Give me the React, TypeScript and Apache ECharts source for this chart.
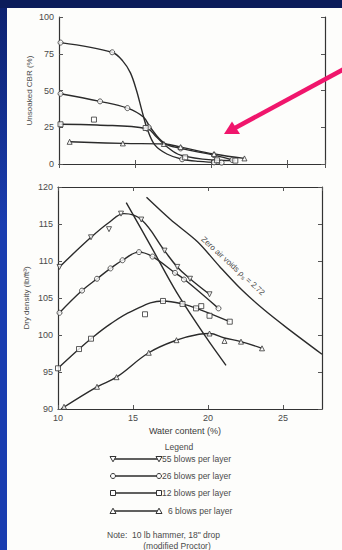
import React, { useEffect, useRef } from "react";
import * as echarts from "echarts";

// ---------- data ----------
const xTicks = [10, 15, 20, 25];
const cbrTicks = [0, 25, 50, 75, 100];
const densityTicks = [90, 95, 100, 105, 110, 115, 120];

const legendLabels = ["55 blows per layer", "26 blows per layer", "12 blows per layer", "6 blows per layer"];

// Unsoaked CBR (%) vs water content (%)
const cbr55Curve = [[10.1, 82.6], [13.5, 76], [14.2, 70], [14.7, 62], [15.1, 50], [15.45, 36.5], [15.8, 24], [16.3, 13], [17.1, 6.8], [18.1, 3.2], [19.2, 1.8], [20.7, 0.9]];
const cbr55Marks = [[10.1, 82.6], [13.5, 76], [15.8, 24], [18.1, 3.2], [20.2, 1.1], [20.7, 0.9]];
const cbr26Curve = [[10.1, 47.8], [12.7, 42.6], [14.5, 38], [15.55, 32], [16.0, 25], [16.9, 14.4], [18.0, 10.6], [20.2, 6], [21.4, 2.7]];
const cbr26Marks = [[10.1, 47.8], [12.7, 42.6], [14.5, 38], [15.9, 25], [18.0, 10.6], [20.2, 6], [21.4, 2.7]];
const cbr12Curve = [[10.1, 27], [12.5, 26.5], [15.8, 24], [16.4, 18.5], [17.1, 11.7], [18.0, 6], [20.2, 2.7], [21.6, 2.3]];
const cbr12Marks = [[10.1, 27], [12.3, 30.2], [15.7, 24.5], [18.3, 4.5], [20.4, 2.5], [21.6, 2.3]];
const cbr6Curve = [[10.7, 15.1], [14.2, 14], [16.9, 13.6], [18.0, 11.5], [20.2, 6.8], [22.2, 3.8]];
const cbr6Marks = [[10.7, 15.1], [14.2, 14], [16.9, 13.6], [18.0, 11.5], [20.2, 6.8], [22.2, 3.8]];

// Dry density (lb/ft3) vs water content (%)
const dd55Curve = [[10.1, 109.2], [12.2, 113.2], [13.4, 115.2], [14.4, 116.4], [15.55, 115.6], [17.1, 111.4], [17.95, 109.2], [18.8, 107.6], [20.1, 105.5]];
const dd55Marks = [[10.1, 109.2], [12.2, 113.2], [13.4, 114.3], [14.2, 116.4], [15.55, 115.6], [17.1, 111.4], [17.95, 109.2], [18.8, 107.6], [20.1, 105.5]];
const dd26Curve = [[10.1, 103], [11.6, 106], [12.6, 107.6], [13.5, 109], [14.3, 110.1], [15.4, 111.2], [16.3, 110.6], [17.8, 108.4], [18.5, 107.4], [20.7, 103.6]];
const dd26Marks = [[10.1, 103], [11.6, 106], [12.6, 107.6], [13.5, 109], [14.3, 110.1], [15.4, 111.2], [16.3, 110.6], [17.8, 108.4], [18.4, 107.5], [20.7, 103.6]];
const dd12Curve = [[10.0, 95.5], [11.4, 98.1], [12.2, 99.5], [13.5, 101.5], [14.9, 103.2], [17.0, 104.6], [18.3, 104.2], [19.5, 103.4], [21.45, 101.8]];
const dd12Marks = [[10.0, 95.5], [11.4, 98.1], [12.2, 99.5], [15.8, 102.8], [17.0, 104.6], [18.3, 104.2], [19.2, 103.6], [19.55, 103.9], [20.1, 102.6], [21.45, 101.8]];
const dd6Curve = [[10.2, 90.0], [12.6, 93], [13.9, 94.3], [16.05, 97.6], [17.9, 99.3], [19.4, 100.1], [20.1, 100.2], [21.1, 99.6], [22.2, 99.1], [23.6, 98.2]];
const dd6Marks = [[10.4, 90.3], [12.6, 93], [13.9, 94.3], [16.05, 97.6], [17.9, 99.3], [20.1, 100.2], [21.1, 99.2], [22.2, 99.1], [23.6, 98.2]];

// line of optimums and zero-air-voids curve
const optimumLine = [[14.55, 117.9], [16.3, 111.6], [17.9, 105.8], [19.9, 99.6], [21.2, 95.9]];
const zavCurve = [[15.9, 118.6], [17.5, 115.6], [19.3, 112.6], [20.8, 109.2], [22.3, 106.0], [23.8, 103.3], [25.3, 100.9], [27.6, 97.4]];

// ---------- styling ----------
const FONT = "Liberation Sans, Arial, sans-serif";
const INK = "#2b2b2b";
const TXT = "#4a4a4a";

function lineSeries(data: number[][], axis: number, smooth = 0.4) {
  return {
    type: "line",
    xAxisIndex: axis,
    yAxisIndex: axis,
    data,
    smooth,
    symbol: "none",
    silent: true,
    lineStyle: { color: INK, width: 1.4 },
    z: 3,
  };
}

function markSeries(data: number[][], axis: number, symbol: string, rotate = 0) {
  return {
    type: "scatter",
    xAxisIndex: axis,
    yAxisIndex: axis,
    data,
    symbol,
    symbolRotate: rotate,
    symbolSize: 5,
    clip: false,
    silent: true,
    itemStyle: { color: "#ffffff", borderColor: "#333", borderWidth: 1 },
    z: 4,
  };
}

function xAxis(grid: number, max: number, pos: "top" | "bottom", labels: boolean) {
  return {
    type: "value",
    gridIndex: grid,
    position: pos,
    min: 10,
    max,
    interval: 5,
    axisLine: { show: true, lineStyle: { color: "#333", width: 1.2 } },
    axisTick: { show: true, inside: true, length: 4, lineStyle: { color: "#555" } },
    axisLabel: {
      show: labels,
      color: TXT,
      fontSize: 9,
      fontFamily: FONT,
      margin: 4,
      showMaxLabel: false,
      formatter: (v: number) => (xTicks.includes(v) ? String(v) : ""),
    },
    splitLine: { show: false },
  };
}

function yAxis(grid: number, min: number, max: number, interval: number, pos: "left" | "right", ticks: number[], name = "", nameGap = 28) {
  return {
    type: "value",
    gridIndex: grid,
    position: pos,
    min,
    max,
    interval,
    name,
    nameLocation: "middle",
    nameGap,
    nameRotate: 90,
    nameMoveOverlap: false,
    nameTextStyle: { color: TXT, fontSize: 8, fontFamily: FONT },
    axisLine: { show: true, lineStyle: { color: "#333", width: 1.2 } },
    axisTick: { show: true, inside: true, length: 4, lineStyle: { color: "#555" } },
    axisLabel: {
      show: pos === "left",
      color: TXT,
      fontSize: 9,
      fontFamily: FONT,
      margin: 5,
      formatter: (v: number) => (ticks.includes(v) ? String(v) : ""),
    },
    splitLine: { show: false },
  };
}

function markerShape(kind: string, cx: number, cy: number) {
  const style = { fill: "#ffffff", stroke: "#333", lineWidth: 1 };
  if (kind === "circle") return { type: "circle", z: 20, shape: { cx, cy, r: 2.5 }, style };
  if (kind === "rect") return { type: "rect", z: 20, shape: { x: cx - 2.5, y: cy - 2.5, width: 5, height: 5 }, style };
  if (kind === "down")
    return { type: "polygon", z: 20, shape: { points: [[cx - 3, cy - 2.5], [cx + 3, cy - 2.5], [cx, cy + 2.8]] }, style };
  return { type: "polygon", z: 20, shape: { points: [[cx - 3, cy + 2.5], [cx + 3, cy + 2.5], [cx, cy - 2.8]] }, style };
}

function buildGraphic() {
  const els: any[] = [];
  const rowsY = [459, 476, 493, 511];
  const kinds = ["down", "circle", "rect", "up"];
  const textX = [162, 162, 162, 168];
  rowsY.forEach((y, i) => {
    els.push({ type: "line", z: 19, shape: { x1: 113, y1: y, x2: 159, y2: y }, style: { stroke: INK, lineWidth: 1.6 } });
    els.push(markerShape(kinds[i], 113, y));
    els.push(markerShape(kinds[i], 159, y));
    els.push({
      type: "text", z: 20, x: textX[i], y,
      style: { text: legendLabels[i], fill: TXT, font: `8.5px ${FONT}`, align: "left", verticalAlign: "middle" },
    });
  });
  els.push({ type: "text", z: 20, x: 179, y: 447, style: { text: "Legend", fill: TXT, font: `8.5px ${FONT}`, align: "center", verticalAlign: "middle" } });
  els.push({ type: "text", z: 20, x: 185, y: 431, style: { text: "Water content (%)", fill: "#3a3a3a", font: `9px ${FONT}`, align: "center", verticalAlign: "middle" } });
  els.push({ type: "text", z: 20, x: 107, y: 535, style: { text: "Note:", fill: TXT, font: `8.5px ${FONT}`, align: "left", verticalAlign: "middle" } });
  els.push({ type: "text", z: 20, x: 132, y: 535, style: { text: "10 lb hammer, 18\" drop", fill: TXT, font: `8.5px ${FONT}`, align: "left", verticalAlign: "middle" } });
  els.push({ type: "text", z: 20, x: 177, y: 546, style: { text: "(modified Proctor)", fill: TXT, font: `8.5px ${FONT}`, align: "center", verticalAlign: "middle" } });
  // zero air voids label
  els.push({
    type: "text", z: 20, x: 233, y: 266, rotation: -0.74,
    style: {
      text: "{a|Zero air voids ρ}{b|s}{a| = 2.72}",
      align: "center", verticalAlign: "middle",
      rich: {
        a: { fill: TXT, fontSize: 8, fontFamily: FONT },
        b: { fill: TXT, fontSize: 6, fontFamily: FONT, padding: [4, 0, 0, 0] },
      },
    },
  });
  // pink arrow
  const arrowColor = "#f0166c";
  els.push({ type: "line", z: 30, shape: { x1: 346, y1: 68, x2: 235, y2: 128 }, style: { stroke: arrowColor, lineWidth: 4.5 } });
  els.push({ type: "polygon", z: 30, shape: { points: [[224, 134], [232, 121.5], [240, 134]] }, style: { fill: arrowColor } });
  return els;
}

const option: any = {
  animation: false,
  textStyle: { fontFamily: FONT },
  grid: [
    { left: 59, top: 17, width: 266, height: 147 },
    { left: 58, top: 187, width: 264, height: 222 },
  ],
  xAxis: [
    xAxis(0, 27.5, "bottom", false),
    xAxis(0, 27.5, "top", false),
    xAxis(1, 27.6, "bottom", true),
    xAxis(1, 27.6, "top", false),
  ],
  yAxis: [
    yAxis(0, 0, 100, 25, "left", cbrTicks, "Unsoaked CBR (%)", 26),
    yAxis(0, 0, 100, 25, "right", cbrTicks),
    yAxis(1, 90, 120, 5, "left", densityTicks, "Dry density (lb/ft³)", 28),
    yAxis(1, 90, 120, 5, "right", densityTicks),
  ],
  series: [
    lineSeries(cbr55Curve, 0, 0.35),
    lineSeries(cbr26Curve, 0),
    lineSeries(cbr12Curve, 0),
    lineSeries(cbr6Curve, 0),
    markSeries(cbr55Marks, 0, "circle"),
    markSeries(cbr26Marks, 0, "circle"),
    markSeries(cbr12Marks, 0, "rect"),
    markSeries(cbr6Marks, 0, "triangle"),
    lineSeries(dd55Curve, 2),
    lineSeries(dd26Curve, 2),
    lineSeries(dd12Curve, 2),
    lineSeries(dd6Curve, 2),
    lineSeries(optimumLine, 2, 0.3),
    lineSeries(zavCurve, 2, 0.3),
    markSeries(dd55Marks, 2, "triangle", 180),
    markSeries(dd26Marks, 2, "circle"),
    markSeries(dd12Marks, 2, "rect"),
    markSeries(dd6Marks, 2, "triangle"),
  ],
  graphic: buildGraphic(),
};

export default function App() {
  const ref = useRef<HTMLDivElement>(null);
  useEffect(() => {
    document.body.style.margin = "0";
    if (!ref.current) return;
    const chart = echarts.init(ref.current, null, { renderer: "svg" });
    chart.setOption(option);
    return () => chart.dispose();
  }, []);
  return (
    <div style={{ position: "relative", width: 342, height: 550, background: "#0b1c5a", overflow: "hidden" }}>
      <div style={{ position: "absolute", left: 0, top: 8, width: 7, height: 542, background: "linear-gradient(#0d2270, #1a3db0 40%, #1a3db0)" }} />
      <div style={{ position: "absolute", left: 7, top: 8, width: 335, height: 542, background: "#fdfdfb" }} />
      <div ref={ref} style={{ position: "absolute", left: 0, top: 0, width: 342, height: 550 }} />
    </div>
  );
}
